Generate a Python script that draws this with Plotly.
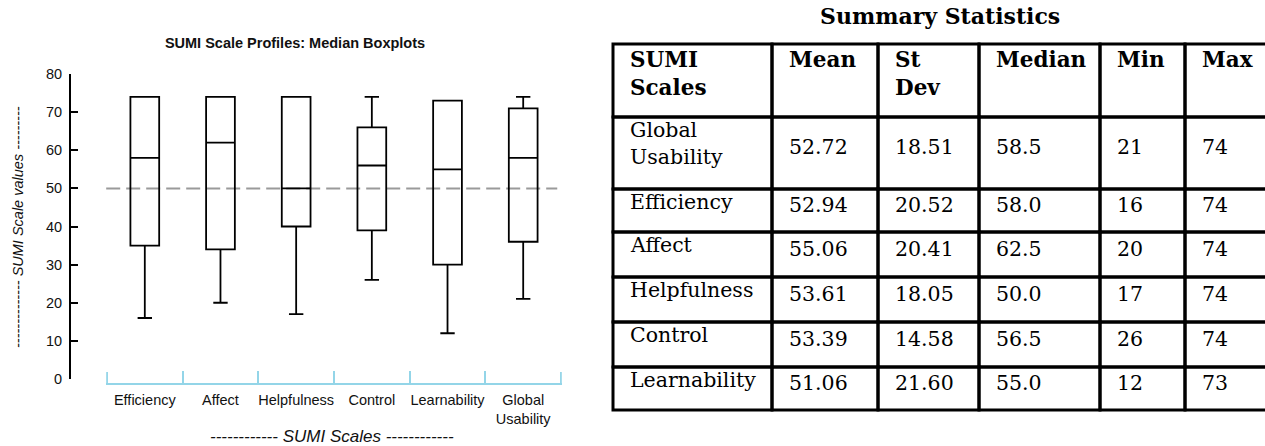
import plotly.graph_objects as go

# ---------------- data: boxplot chart ----------------
categories = ["Efficiency", "Affect", "Helpfulness", "Control", "Learnability", "Global Usability"]
box_min = [16, 20, 17, 26, 12, 21]
box_q1 = [35, 34, 40, 39, 30, 36]
box_median = [58, 62, 50, 56, 55, 58]
box_q3 = [74, 74, 74, 66, 73, 71]
box_max = [74, 74, 74, 74, 73, 74]
reference_value = 50
y_ticks = [0, 10, 20, 30, 40, 50, 60, 70, 80]

chart_title = "SUMI Scale Profiles: Median Boxplots"
x_title = "------------ SUMI Scales ------------"
y_title = "-------------- SUMI Scale values ---------"

# ---------------- data: summary table ----------------
table_title = "Summary Statistics"
table_header = ["SUMI Scales", "Mean", "St Dev", "Median", "Min", "Max"]
table_scales = ["Global Usability", "Efficiency", "Affect", "Helpfulness", "Control", "Learnability"]
table_mean = [52.72, 52.94, 55.06, 53.61, 53.39, 51.06]
table_sd = [18.51, 20.52, 20.41, 18.05, 14.58, 21.60]
table_median = [58.5, 58.0, 62.5, 50.0, 56.5, 55.0]
table_min = [21, 16, 20, 17, 26, 12]
table_max = [74, 74, 74, 74, 74, 73]

# ---------------- layout / style ----------------
W, H = 1265, 446
SANS = "Liberation Sans, Arial, sans-serif"
SERIF = "DejaVu Serif, Georgia, serif"
AXIS_BLUE = "#93d5e8"
X_AXIS_Y = 1 - 384 / H      # paper position of the category axis line
X_TICK_LEN = 12

# table geometry (table units on hidden axes)
table_left, table_top = 613, 44
col_widths = [159, 106, 101, 121, 85, 110]
row_heights = [73, 72, 43, 45, 45, 45, 43]
cell_pad = 15
cell_font = 20.5
header_font = 21.5

fig = go.Figure()

fig.add_trace(go.Box(
    x=categories, q1=box_q1, median=box_median, q3=box_q3,
    lowerfence=box_min, upperfence=box_max,
    width=0.38, whiskerwidth=0.5, boxpoints=False,
    line=dict(color="black", width=1.8), fillcolor="rgba(0,0,0,0)",
    showlegend=False, hoverinfo="skip", xaxis="x", yaxis="y",
))

# reference line
fig.add_shape(type="line", xref="x domain", yref="y", x0=0, x1=0.99,
              y0=reference_value, y1=reference_value, layer="below",
              line=dict(color="#9a9a9a", width=2, dash="14px,6px"))

# outer category-boundary ticks (plotly omits the two end boundaries)
for bx in (-0.5, len(categories) - 0.5):
    fig.add_shape(type="line", xref="x", yref="paper", x0=bx, x1=bx,
                  y0=X_AXIS_Y, y1=X_AXIS_Y + X_TICK_LEN / H,
                  line=dict(color=AXIS_BLUE, width=2))

# ---------------- table drawn on hidden axes ----------------
col_edges = [table_left]
for w in col_widths:
    col_edges.append(col_edges[-1] + w)
row_edges = [table_top]
for h in row_heights:
    row_edges.append(row_edges[-1] + h)

for r in range(len(row_heights)):
    for c in range(len(col_widths)):
        fig.add_shape(type="rect", xref="x2", yref="y2",
                      x0=col_edges[c], x1=col_edges[c + 1],
                      y0=row_edges[r], y1=row_edges[r + 1],
                      line=dict(color="black", width=3), fillcolor="rgba(0,0,0,0)")

# header
for c, txt in enumerate(table_header):
    fig.add_annotation(xref="x2", yref="y2", x=col_edges[c] + cell_pad, y=row_edges[0] + 1,
                       text=txt.replace(" ", "<br>"), showarrow=False,
                       xanchor="left", yanchor="top", align="left",
                       font=dict(family=SERIF, size=header_font, color="black", weight="bold"))

# body
body_cols = [
    table_scales,
    ["{:.2f}".format(v) for v in table_mean],
    ["{:.2f}".format(v) for v in table_sd],
    ["{:.1f}".format(v) for v in table_median],
    [str(v) for v in table_min],
    [str(v) for v in table_max],
]
for i in range(len(table_scales)):
    r = i + 1
    top, bot = row_edges[r], row_edges[r + 1]
    mid = (top + bot) / 2
    for c, col in enumerate(body_cols):
        if c == 0:
            fig.add_annotation(xref="x2", yref="y2", x=col_edges[c] + cell_pad, y=top - 1,
                               text=col[i].replace(" ", "<br>"), showarrow=False,
                               xanchor="left", yanchor="top", align="left",
                               font=dict(family=SERIF, size=cell_font, color="black"))
        else:
            fig.add_annotation(xref="x2", yref="y2", x=col_edges[c] + cell_pad, y=mid - 6,
                               text=col[i], showarrow=False,
                               xanchor="left", yanchor="middle", align="left",
                               font=dict(family=SERIF, size=cell_font, color="black"))

fig.add_annotation(xref="x2", yref="y2", x=940, y=16, text=table_title, showarrow=False,
                   xanchor="center", yanchor="middle",
                   font=dict(family=SERIF, size=22, color="black", weight="bold"))

# axis titles
fig.add_annotation(xref="paper", yref="paper", x=332 / W, y=1 - 436 / H, text=x_title,
                   showarrow=False, xanchor="center", yanchor="middle",
                   font=dict(family=SANS, size=17, color="#111", style="italic"))
fig.add_annotation(xref="paper", yref="paper", x=18 / W, y=1 - 227 / H, text=y_title,
                   showarrow=False, xanchor="center", yanchor="middle", textangle=-90,
                   font=dict(family=SANS, size=14.5, color="#111", style="italic"))

fig.update_layout(
    width=W, height=H,
    margin=dict(l=0, r=0, t=0, b=0),
    paper_bgcolor="white", plot_bgcolor="rgba(0,0,0,0)",
    title=dict(text=chart_title, x=295 / W, y=1 - 43 / H, xanchor="center", yanchor="middle",
               font=dict(family=SANS, size=14.5, color="#111", weight="bold")),
    xaxis=dict(domain=[106.2 / W, 561.8 / W], range=[-0.51, 5.51], type="category",
               categoryorder="array", categoryarray=categories,
               tickmode="array", tickvals=categories,
               ticktext=[c.replace(" ", "<br>") for c in categories],
               anchor="free", position=X_AXIS_Y, tickangle=0,
               showline=True, linecolor=AXIS_BLUE, linewidth=2,
               ticks="inside", tickson="boundaries", ticklen=X_TICK_LEN, tickwidth=2,
               tickcolor=AXIS_BLUE,
               showgrid=False, zeroline=False, automargin=False, ticklabelstandoff=3,
               tickfont=dict(family=SANS, size=14.5, color="#111"), fixedrange=True),
    yaxis=dict(domain=[1 - 379 / H, 1 - 74 / H], range=[0, 80],
               anchor="free", position=70 / W,
               showline=True, linecolor="black", linewidth=2,
               ticks="inside", ticklen=7, tickwidth=2, tickcolor="black",
               tickmode="array", tickvals=y_ticks,
               showgrid=False, zeroline=False, automargin=False, ticklabelstandoff=4,
               tickfont=dict(family=SANS, size=14.5, color="#111"), fixedrange=True),
    xaxis2=dict(domain=[600 / W, 1], range=[600, W], visible=False, anchor="y2", fixedrange=True),
    yaxis2=dict(domain=[0, 1], range=[H, 0], visible=False, anchor="x2", fixedrange=True),
)

fig.write_html("out.html", config={"displayModeBar": False},
               post_script="document.body.style.margin='0';document.body.style.overflow='hidden';")
